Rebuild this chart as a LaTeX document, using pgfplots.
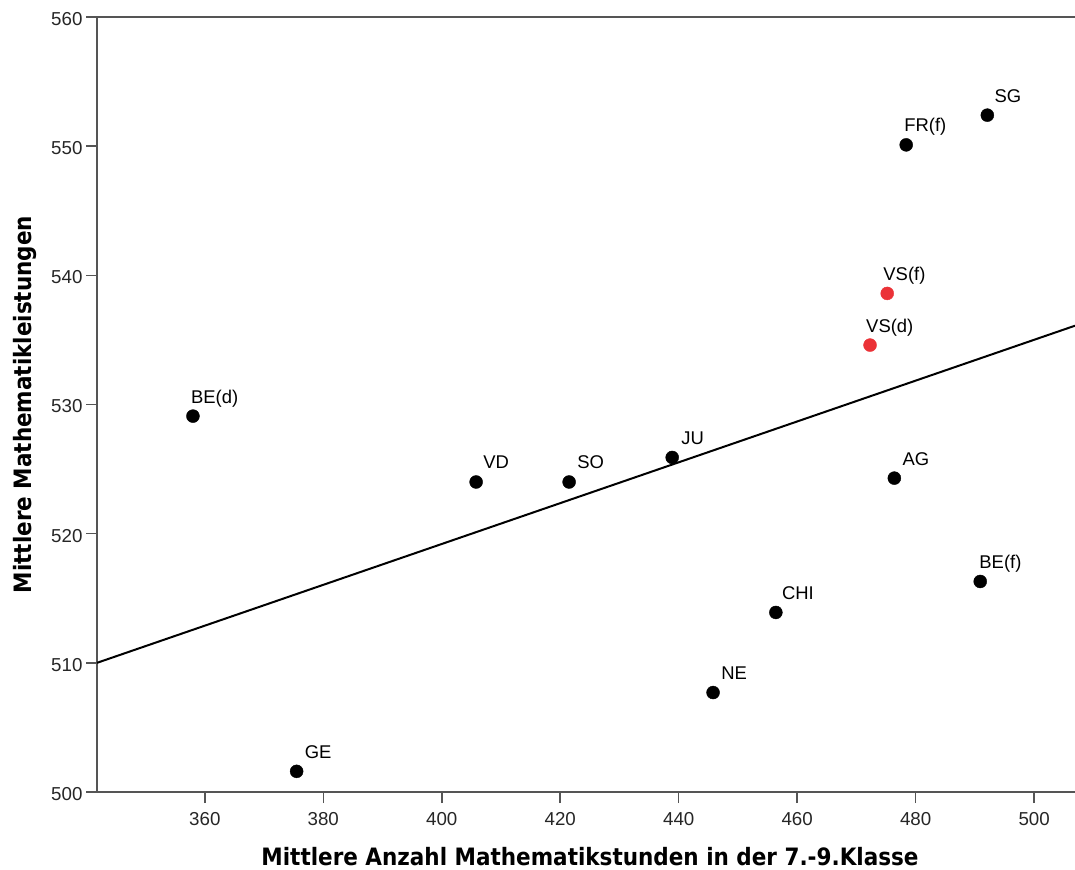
\documentclass[border=0pt]{standalone}
\usepackage{fontspec}
\setmainfont{Liberation Sans}
\newfontfamily\labfont{DejaVu Sans}[FakeStretch=0.9]
\usepackage{pgfplots}
\pgfplotsset{compat=1.18}
\usepackage{pgfplotstable}
\definecolor{axgray}{RGB}{85,85,85}
\definecolor{spssred}{RGB}{235,50,55}

\pgfplotstableread{
x y dx lab
492.1 552.4 7 SG
478.4 550.1 -2 FR(f)
358.0 529.1 -2 BE(d)
405.8 524.0 7 VD
421.5 524.0 8 SO
438.9 525.9 9 JU
476.4 524.3 8 AG
490.9 516.3 -1 BE(f)
456.4 513.9 6 CHI
445.8 507.7 8 NE
375.5 501.6 8 GE
}\blacktab

\pgfplotstableread{
x y dx lab
475.2 538.6 -4 VS(f)
472.3 534.6 -4 VS(d)
}\redtab

\begin{document}
\begin{tikzpicture}
\begin{axis}[
  name=ax,
  scale only axis, width=978bp, height=775bp,
  xmin=341.8, xmax=506.9, ymin=500, ymax=560,
  xtick={360,380,...,500}, ytick={500,510,...,560},
  tick align=outside, xtick pos=bottom, ytick pos=left,
  major tick length=11bp,
  tick style={axgray, line width=1.5bp},
  axis line style={draw=none},
  clip=false,
  ticklabel style={font=\fontsize{18.8}{20}\selectfont, text=black!85},
  xticklabel style={yshift=-6bp},
  yticklabel style={yshift=-2bp},
  /pgf/number format/assume math mode=true,
  /pgf/number format/1000 sep={},
  every axis x label/.style={at={(rel axis cs:0.5,0)}, anchor=center, xshift=4bp, yshift=-65bp, font=\labfont\bfseries\fontsize{24}{28}\selectfont},
  every axis y label/.style={at={(rel axis cs:0,0.5)}, anchor=center, xshift=-72bp, rotate=90, font=\labfont\bfseries\fontsize{24}{28}\selectfont},
  xlabel={Mittlere Anzahl Mathematikstunden in der 7.-9.Klasse},
  ylabel={Mittlere Mathematikleistungen},
  every node near coord/.append style={anchor=base west, inner sep=0pt, xshift=\dx bp, yshift=13bp, font=\fontsize{18.5}{20}\selectfont, text=black},
]
\draw[axgray, line width=2.2bp] (rel axis cs:1.02,1) -- (rel axis cs:0,1) -- (rel axis cs:0,0) -- (rel axis cs:1.02,0);
\addplot[black, line width=2bp] coordinates {(341.8,510.0) (506.9,536.1)};
\addplot[only marks, mark=*, mark size=6.5bp, mark options={fill=black, draw=black},
  point meta=explicit symbolic, nodes near coords,
  visualization depends on={\thisrow{dx} \as \dx}]
  table[x=x, y=y, meta=lab] {\blacktab};
\addplot[only marks, mark=*, mark size=6.5bp, mark options={fill=spssred, draw=spssred},
  point meta=explicit symbolic, nodes near coords,
  visualization depends on={\thisrow{dx} \as \dx}]
  table[x=x, y=y, meta=lab] {\redtab};
\end{axis}
\pgfresetboundingbox
\path[use as bounding box] ([shift={(-97bp,-78bp)}]ax.south west) rectangle ([shift={(0bp,17bp)}]ax.north east);
\end{tikzpicture}
\end{document}
